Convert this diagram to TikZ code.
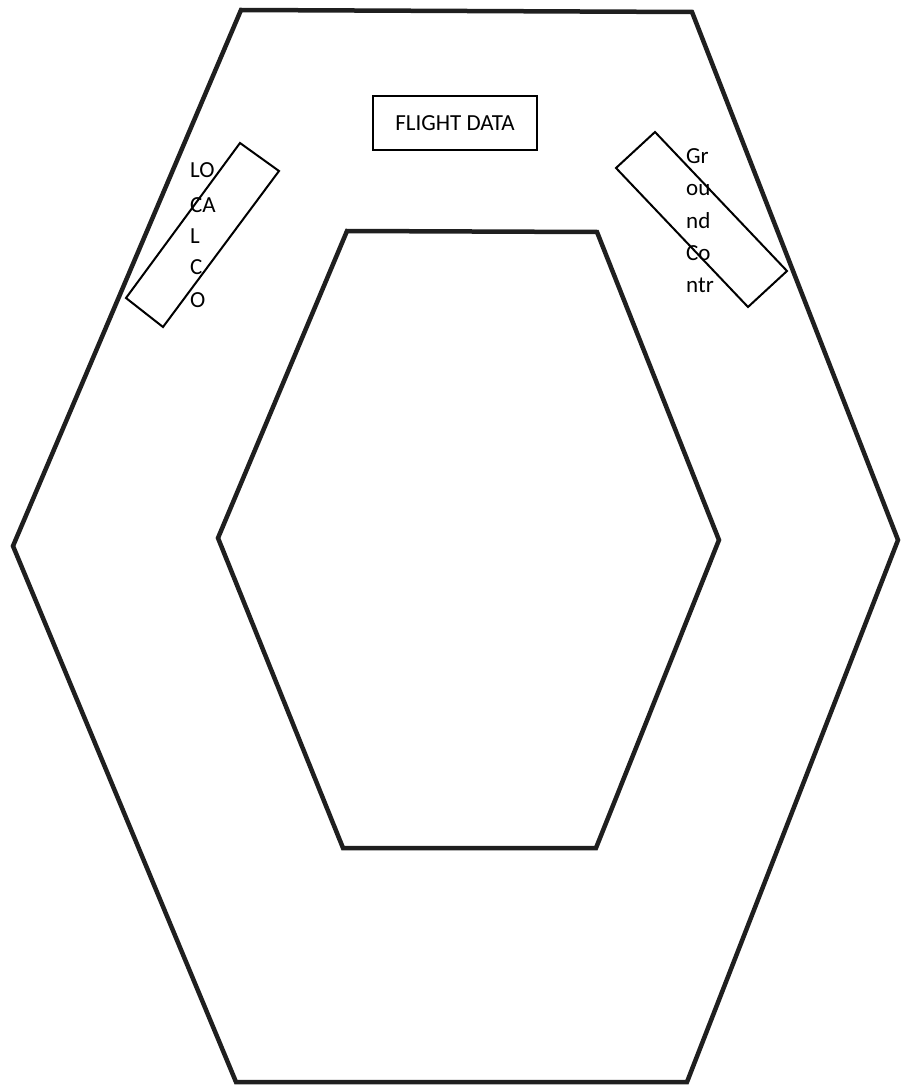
\documentclass[tikz,border=0pt]{standalone}
\usepackage{fontspec}
\setmainfont{Carlito}
\begin{document}
\begin{tikzpicture}[x=1pt,y=-1pt,
  hexline/.style={draw=black!88, line width=4.5pt, line join=miter},
  boxline/.style={draw=black, line width=2pt},
  lbl/.style={inner sep=0pt, anchor=base west, font=\fontsize{23}{27}\selectfont}]
\useasboundingbox (0,0) rectangle (902,1086);
% outer hexagon
\draw[hexline] (241,10) -- (692,12) -- (898,540) -- (687,1082) -- (236,1082) -- (13,546) -- cycle;
% inner hexagon
\draw[hexline] (347,231) -- (597,232) -- (719,540) -- (596,848) -- (343,848) -- (218,538) -- cycle;
% flight data box
\node[boxline, minimum width=164pt, minimum height=54pt, inner sep=0pt, font=\fontsize{23}{27}\selectfont] (fd) at (455,123) {FLIGHT DATA};
% left rotated box
\draw[boxline] (240,143) -- (279,171) -- (163,327) -- (126,298) -- cycle;
\node[lbl] (l1) at (190,178) {LO};
\node[lbl] (l2) at (190,212) {CA};
\node[lbl] (l3) at (190,243) {L};
\node[lbl] (l4) at (190,274) {C};
\node[lbl] (l5) at (190,307) {O};
% right rotated box
\draw[boxline] (655,132) -- (787,271) -- (748,307) -- (616,168) -- cycle;
\node[lbl] (r1) at (686,164) {Gr};
\node[lbl] (r2) at (686,196) {ou};
\node[lbl] (r3) at (686,228) {nd};
\node[lbl] (r4) at (686,260) {Co};
\node[lbl] (r5) at (686,292) {ntr};
\end{tikzpicture}
\end{document}
